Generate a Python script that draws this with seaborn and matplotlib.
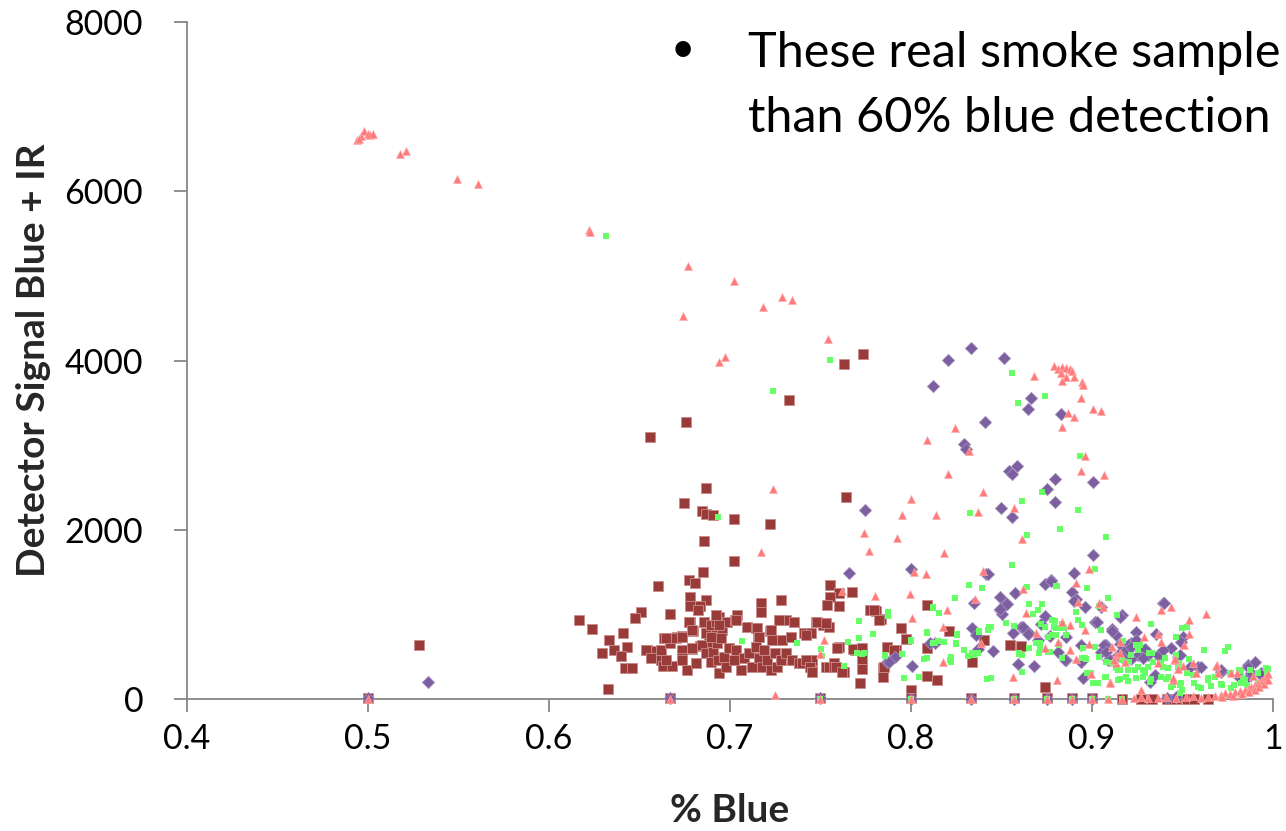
import numpy as np
import pandas as pd
import matplotlib
matplotlib.use("Agg")
import matplotlib.pyplot as plt
import seaborn as sns

sns.set_style("ticks")
plt.rcParams['font.family'] = ['Lato', 'DejaVu Sans']

# ---------------- data (x = fraction blue, y = detector signal blue + IR) ----------------
red_pts = [
    (0.528, 638), (0.7734, 4078), (0.763, 3960), (0.7326, 3534), (0.6758, 3274), (0.6559, 3097),
    (0.6868, 2494), (0.764, 2388), (0.6747, 2317), (0.6846, 2222), (0.6868, 2187), (0.6906, 2175),
    (0.7023, 2128), (0.7221, 2069), (0.6857, 1868), (0.7023, 1631), (0.6852, 1501), (0.6603, 1336),
    (0.6774, 1407), (0.6808, 1371), (0.7552, 1347), (0.7602, 1253), (0.7673, 1265), (0.7552, 1206),
    (0.7602, 1099), (0.678, 1206), (0.6868, 1170), (0.678, 1099), (0.6835, 1099), (0.6825, 1052),
    (0.7282, 1170), (0.7172, 1135), (0.7172, 1028), (0.6168, 934), (0.6239, 827), (0.651, 1028),
    (0.6477, 957), (0.641, 780), (0.667, 1005), (0.678, 910), (0.6797, 804), (0.6333, 697),
    (0.6432, 615), (0.6295, 544), (0.6361, 579), (0.6399, 508), (0.6421, 366), (0.646, 366),
    (0.6328, 118), (0.6543, 579), (0.6565, 496), (0.6592, 567), (0.662, 579), (0.6637, 721),
    (0.667, 662), (0.6709, 733), (0.6736, 745), (0.6736, 579), (0.6736, 485), (0.6791, 591),
    (0.6835, 627), (0.6857, 910), (0.6885, 674), (0.6902, 792), (0.6924, 757), (0.694, 969),
    (0.6957, 816), (0.6984, 910), (0.7028, 934), (0.7039, 993), (0.7094, 851), (0.7144, 839),
    (0.7155, 733), (0.7221, 804), (0.7276, 934), (0.731, 934), (0.7354, 910), (0.7409, 780),
    (0.7447, 780), (0.7475, 910), (0.7513, 875), (0.7547, 851), (0.7392, 426), (0.7453, 402),
    (0.7453, 331), (0.753, 378), (0.7574, 426), (0.7602, 615), (0.763, 319), (0.769, 579),
    (0.7729, 473), (0.7729, 355), (0.7718, 189), (0.7773, 1052), (0.7806, 1040), (0.7833, 946),
    (0.7845, 366), (0.7845, 260), (0.7867, 615), (0.7916, 579),
    (0.6537, 579), (0.6565, 485), (0.662, 461), (0.6631, 390), (0.6681, 390), (0.6648, 461),
    (0.6736, 461), (0.6763, 343), (0.6791, 603), (0.6813, 426), (0.6846, 638), (0.6868, 544),
    (0.6896, 437), (0.6907, 556), (0.6929, 662), (0.6934, 461), (0.694, 307), (0.6968, 496),
    (0.6978, 378), (0.6995, 603), (0.7023, 461), (0.7034, 579), (0.7061, 343), (0.7078, 485),
    (0.7105, 544), (0.7122, 378), (0.7144, 615), (0.7161, 485), (0.7177, 378), (0.7188, 579),
    (0.7205, 461), (0.7227, 343), (0.7232, 697), (0.7249, 544), (0.726, 378), (0.7282, 461),
    (0.731, 544), (0.7288, 697), (0.7337, 733), (0.7343, 461), (0.7381, 426), (0.742, 757),
    (0.7453, 461), (0.748, 910), (0.753, 898), (0.7547, 378), (0.7574, 378), (0.6868, 780),
    (0.6896, 733), (0.6951, 721), (0.6896, 875), (0.6924, 910), (0.7149, 839), (0.7161, 733),
    (0.7227, 816), (0.6648, 721), (0.6703, 721), (0.6736, 733), (0.6774, 910), (0.6791, 816),
    (0.6924, 993), (0.694, 875), (0.7034, 934), (0.7271, 934), (0.7398, 426), (0.742, 461),
    (0.7442, 378), (0.7453, 319), (0.7585, 378), (0.759, 603),
    (0.7536, 1111), (0.7679, 591), (0.7729, 603), (0.7618, 319), (0.7795, 1052), (0.7944, 839),
    (0.7971, 709), (0.7905, 579), (0.785, 378), (0.8087, 1111), (0.8087, 603), (0.8087, 272),
    (0.8142, 225), (0.8208, 804), (0.7999, 106), (0.8401, 697), (0.8545, 638), (0.8606, 627),
    (0.8335, 437), (0.8738, 142), (0.7822, 934),
    (0.5, 12), (0.6667, 10), (0.75, 10), (0.8, 8), (0.8333, 8), (0.8571, 8), (0.875, 6),
    (0.8889, 6), (0.9, 6), (0.9167, 5), (0.9273, 5), (0.9333, 5), (0.9412, 5), (0.9466, 5),
    (0.9524, 5), (0.9565, 5), (0.9643, 5),
]

purple_pts = [
    (0.5329, 201), (0.7745, 2234), (0.7657, 1489), (0.7867, 437), (0.7911, 496), (0.833, 4149),
    (0.8203, 4007), (0.8512, 4031), (0.812, 3700), (0.8661, 3558), (0.8644, 3428), (0.8826, 3369),
    (0.8407, 3274), (0.8291, 3014), (0.8302, 2955), (0.8584, 2754), (0.854, 2695), (0.8556, 2659),
    (0.8793, 2600), (0.9008, 2565), (0.8749, 2482), (0.8793, 2329), (0.8495, 2258), (0.8556, 2151),
    (0.9003, 1702), (0.7999, 1537), (0.8413, 1478), (0.8424, 1478), (0.8903, 1489), (0.8771, 1407),
    (0.8738, 1359), (0.8573, 1253), (0.8887, 1265), (0.849, 1206), (0.8909, 1182), (0.8523, 1135),
    (0.8959, 1087), (0.8346, 1135), (0.9394, 1135), (0.849, 1052), (0.8501, 1005), (0.8738, 981),
    (0.9163, 993), (0.9019, 910), (0.8606, 851), (0.8335, 839), (0.8357, 757), (0.8561, 780),
    (0.865, 780), (0.9108, 827), (0.913, 757), (0.9245, 792), (0.9351, 768), (0.9505, 733),
    (0.9494, 674), (0.8766, 745), (0.8854, 733), (0.8937, 638), (0.908, 638), (0.9174, 579),
    (0.9218, 662), (0.8104, 662), (0.8451, 567), (0.881, 556), (0.8854, 461), (0.8937, 437),
    (0.9047, 556), (0.9091, 461), (0.9146, 520), (0.919, 579), (0.9256, 520), (0.9311, 520),
    (0.9378, 520), (0.9439, 603), (0.9477, 496), (0.9543, 378), (0.9587, 378), (0.9714, 319),
    (0.9863, 402), (0.9902, 437), (0.988, 307), (0.9935, 307), (0.9323, 201), (0.935, 284),
    (0.8953, 248), (0.8589, 414), (0.8677, 390), (0.8004, 390), (0.8776, 1395), (0.8898, 1158),
    (0.9052, 1087), (0.9157, 969), (0.94, 1135), (0.9025, 910), (0.9113, 804), (0.9157, 650),
    (0.9201, 638), (0.9185, 567), (0.9218, 615), (0.9245, 697), (0.9295, 591), (0.9367, 520),
    (0.9394, 579), (0.9488, 520), (0.9069, 638), (0.908, 556), (0.9097, 461), (0.9168, 496),
    (0.9218, 473), (0.9284, 485), (0.8852, 461), (0.9604, 378), (0.9714, 343), (0.9863, 378),
    (0.988, 284), (0.9847, 225), (0.981, 260), (0.9935, 284), (0.8529, 1123), (0.849, 1064),
    (0.8617, 851), (0.8644, 768), (0.8716, 887), (0.8368, 591), (0.7878, 437), (0.8131, 662),
    (0.8699, 697),
    (0.5, 8), (0.6667, 6), (0.75, 6), (0.8, 5), (0.8333, 5), (0.8571, 5), (0.875, 4),
    (0.8889, 4), (0.9, 4), (0.9412, 15), (0.9466, 20),
]

green_pts = [
    (0.6317, 5473), (0.7552, 4007), (0.7238, 3641), (0.6934, 2151), (0.7872, 1028), (0.7872, 981),
    (0.7712, 922), (0.7789, 768), (0.7712, 721), (0.7651, 674), (0.7067, 686), (0.737, 662),
    (0.7502, 591), (0.7508, 508), (0.7701, 544), (0.774, 544), (0.763, 390), (0.7856, 508),
    (0.8556, 1584), (0.8319, 1347), (0.839, 1312), (0.8242, 1194), (0.8639, 1324), (0.865, 1123),
    (0.8721, 1123), (0.8699, 1052), (0.8672, 1005), (0.8777, 934), (0.8799, 1336), (0.8523, 898),
    (0.8567, 863), (0.8716, 887), (0.844, 851), (0.8424, 816), (0.8374, 804), (0.8799, 839),
    (0.8799, 757), (0.8755, 733), (0.871, 662), (0.871, 615), (0.8766, 556), (0.865, 603),
    (0.8595, 532), (0.8611, 520), (0.8611, 319), (0.8418, 236), (0.8335, 544), (0.8313, 508),
    (0.8291, 579), (0.8247, 650), (0.8253, 757), (0.8181, 674), (0.8148, 686), (0.812, 662),
    (0.8153, 1017), (0.812, 1076), (0.8087, 792), (0.822, 496), (0.822, 437), (0.807, 473),
    (0.7999, 686), (0.7949, 532), (0.796, 248), (0.7729, 532),
    (0.8556, 3853), (0.8743, 3581), (0.8589, 3499), (0.8931, 2872), (0.8721, 2447), (0.8611, 2340),
    (0.8925, 2234), (0.8324, 2199), (0.8821, 2009), (0.8639, 1938), (0.908, 1915), (0.9019, 1537),
    (0.8804, 1336), (0.8975, 1312), (0.9091, 1194), (0.8914, 1028), (0.914, 993), (0.9328, 887),
    (0.9499, 839), (0.9527, 851), (0.9466, 733), (0.9621, 579), (0.9737, 567), (0.9753, 615),
    (0.9825, 331), (0.9974, 355), (0.9968, 307), (0.977, 307), (0.9643, 225), (0.9847, 225),
    (0.9825, 189), (0.9714, 177), (0.956, 284), (0.9422, 260), (0.9383, 426), (0.9405, 485),
    (0.9483, 426), (0.9488, 165), (0.9267, 638), (0.9334, 544), (0.9218, 520), (0.8997, 307),
    (0.9003, 189), (0.9074, 260), (0.9146, 343), (0.9146, 225), (0.919, 260), (0.9108, 426),
    (0.9256, 378), (0.9295, 307), (0.9323, 201), (0.9439, 142), (0.9587, 142), (0.9659, 154),
    (0.977, 130), (0.9918, 189), (0.8964, 485), (0.9019, 615), (0.8953, 603), (0.8975, 307),
    (0.8815, 638), (0.8854, 757), (0.8777, 757), (0.8925, 934), (0.8843, 839), (0.8738, 851),
    (0.8688, 662), (0.8705, 544), (0.8755, 556), (0.8595, 544), (0.8429, 851), (0.8374, 792),
    (0.8253, 768), (0.8087, 780), (0.8131, 662), (0.8247, 662), (0.8214, 461), (0.8346, 520),
    (0.8368, 544), (0.844, 248), (0.812, 1087), (0.7999, 697), (0.7856, 520), (0.8042, 260),
    (0.8087, 485),
    (0.9036, 1099), (0.9047, 816), (0.8942, 875), (0.8793, 922), (0.8832, 887), (0.8788, 851),
    (0.8832, 839), (0.9174, 686), (0.9245, 638), (0.9256, 579), (0.9036, 496), (0.8942, 485),
    (0.8837, 485), (0.8969, 473), (0.908, 437), (0.9163, 461), (0.9207, 437), (0.9317, 544),
    (0.9339, 437), (0.9394, 378), (0.9422, 366), (0.9466, 520), (0.9477, 378), (0.9538, 473),
    (0.913, 366), (0.9157, 343), (0.9201, 343), (0.924, 343), (0.9284, 343), (0.9311, 378),
    (0.908, 260), (0.9152, 236), (0.9201, 213), (0.9245, 248), (0.9284, 260), (0.9328, 236),
    (0.9383, 260), (0.9411, 236), (0.945, 165), (0.9494, 189), (0.9527, 307), (0.9565, 189),
    (0.9604, 130), (0.9643, 248), (0.9681, 260), (0.972, 165), (0.9763, 307), (0.9814, 343),
    (0.9836, 248), (0.9875, 343), (0.9919, 307), (0.9963, 366), (0.9786, 165), (0.9858, 165),
    (0.9031, 189), (0.9488, 71), (0.9499, 106),
    (0.75, 5), (0.8, 5), (0.8571, 5), (0.875, 5), (0.8889, 5), (0.9, 5), (0.9091, 5), (0.9167, 5),
]

pink_pts = [
    (0.494, 6608), (0.496, 6655), (0.498, 6714), (0.5, 6680), (0.501, 6667), (0.503, 6680),
    (0.495, 6620), (0.5175, 6442), (0.5208, 6478), (0.549, 6146), (0.5605, 6087), (0.622, 5544),
    (0.6225, 5520), (0.677, 5118), (0.702, 4941), (0.729, 4752), (0.734, 4716), (0.718, 4633),
    (0.674, 4527), (0.754, 4255), (0.697, 4042), (0.694, 3983), (0.724, 2482), (0.774, 1962),
    (0.792, 1903), (0.717, 1738), (0.777, 1749), (0.762, 1277), (0.78, 1217), (0.752, 697),
    (0.75, 532), (0.725, 47),
    (0.8788, 3936), (0.881, 3901), (0.8832, 3924), (0.8854, 3912), (0.8881, 3901), (0.8892, 3877),
    (0.8826, 3853), (0.8859, 3806), (0.8898, 3806), (0.8832, 3759), (0.8942, 3747), (0.8953, 3711),
    (0.8677, 3818), (0.8937, 3558), (0.9008, 3428), (0.9047, 3404), (0.887, 3381), (0.8898, 3333),
    (0.8837, 3215),
    (0.8242, 3203), (0.8087, 3061), (0.8319, 2931), (0.8964, 2872), (0.8937, 2695), (0.9069, 2648),
    (0.8203, 2659), (0.8396, 2447), (0.7999, 2364), (0.8567, 2258), (0.8368, 2210), (0.7949, 2175),
    (0.8137, 2175), (0.8611, 1891), (0.8181, 1726),
    (0.8015, 1501), (0.8082, 1478), (0.8396, 1513), (0.8981, 1537), (0.7993, 1241), (0.8617, 1300),
    (0.8909, 1371), (0.8352, 1182), (0.892, 1146), (0.9036, 1135), (0.9439, 1087), (0.9383, 1052),
    (0.8197, 1052), (0.8004, 957), (0.9245, 969), (0.9632, 1005), (0.9538, 934), (0.8633, 1016),
    (0.8175, 851), (0.8832, 910), (0.8881, 875), (0.8688, 780), (0.881, 674), (0.8385, 662),
    (0.8175, 437), (0.8738, 603), (0.8881, 579), (0.8981, 650), (0.9152, 674), (0.913, 520),
    (0.9367, 768), (0.9383, 674), (0.951, 638), (0.9538, 768), (0.8561, 260), (0.8804, 225),
    (0.8997, 296), (0.9097, 201), (0.9273, 106), (0.9367, 426), (0.9455, 461), (0.956, 426),
    (0.9692, 402), (0.9698, 307), (0.9891, 272), (0.913, 426), (0.9185, 437), (0.945, 225),
    (0.9477, 355), (0.9957, 260),
    (0.9063, 1087), (0.8964, 816), (0.929, 733), (0.9113, 615), (0.9152, 544), (0.8914, 473),
    (0.9119, 461), (0.946, 473), (0.9505, 390), (0.9576, 307), (0.9687, 390), (0.977, 307),
    (0.98, 307), (0.9102, 189), (0.945, 248),
    (0.923, 15), (0.9273, 20), (0.9312, 10), (0.9367, 15), (0.9411, 25), (0.9466, 10),
    (0.9521, 20), (0.956, 30), (0.9604, 15), (0.9643, 25), (0.968, 35), (0.9715, 50),
    (0.9737, 71), (0.9765, 60), (0.979, 83), (0.9815, 90), (0.9847, 106), (0.9865, 125),
    (0.988, 142), (0.99, 165), (0.9918, 189), (0.9935, 210), (0.9946, 225), (0.9962, 260),
    (0.9975, 300), (0.972, 20), (0.978, 40), (0.983, 60), (0.987, 80), (0.99, 110),
    (0.9925, 140), (0.995, 180), (0.997, 230),
    (0.5, 5), (0.6667, 5), (0.75, 5), (0.8, 5), (0.8333, 5), (0.8571, 5), (0.875, 5),
    (0.8889, 5), (0.9, 5), (0.9091, 5), (0.9167, 5),
]

x_ticks = [0.4, 0.5, 0.6, 0.7, 0.8, 0.9, 1.0]
x_tick_labels = ["0.4", "0.5", "0.6", "0.7", "0.8", "0.9", "1"]
y_ticks = [0, 2000, 4000, 6000, 8000]
y_tick_labels = ["0", "2000", "4000", "6000", "8000"]
x_label = "% Blue"
y_label = "Detector Signal Blue + IR"
note_line1 = "These real smoke sample"
note_line2 = "than 60% blue detection"

# ---------------- figure ----------------
fig = plt.figure(figsize=(12.86, 8.31), dpi=100)
ax = fig.add_axes([187 / 1286, 1 - 699 / 831, (1273 - 187) / 1286, (699 - 22) / 831])

series = [
    (red_pts, "s", 55, "#993B38", "#C98C8A", 0.6),
    (purple_pts, "D", 40, "#7C5F9F", "#A995C2", 0.5),
    (green_pts, "s", 20, "#66FF66", "#66FF66", 0.0),
    (pink_pts, "^", 34, "#FF7B7B", "#FFB0B0", 0.4),
]
for pts, mk, sz, col, ec, lw in series:
    df = pd.DataFrame(pts, columns=["x", "y"])
    sns.scatterplot(data=df, x="x", y="y", marker=mk, s=sz, color=col,
                    edgecolor=ec, linewidth=lw, ax=ax, clip_on=False, zorder=3)

ax.set_xlim(0.4, 1.0)
ax.set_ylim(0, 8000)
ax.set_xticks(x_ticks)
ax.set_xticklabels(x_tick_labels)
ax.set_yticks(y_ticks)
ax.set_yticklabels(y_tick_labels)

for side in ["top", "right"]:
    ax.spines[side].set_visible(False)
for side in ["left", "bottom"]:
    ax.spines[side].set_color("#868686")
    ax.spines[side].set_linewidth(1.3)

ax.tick_params(axis="both", direction="out", length=9.5, width=1.3, color="#868686",
               labelsize=24.5, labelcolor="black")
ax.tick_params(axis="x", pad=8)
ax.tick_params(axis="y", pad=22)

ax.set_xlabel(x_label, fontsize=28, fontweight="bold", labelpad=27)
ax.set_ylabel(y_label, fontsize=28, fontweight="bold", labelpad=10)

fig.text(683 / 1286, 1 - 50 / 831, "\u2022", fontsize=30, ha="center", va="center", color="black")
fig.text(748 / 1286, 1 - 67 / 831, note_line1, fontsize=35, ha="left", va="baseline", color="black")
fig.text(748 / 1286, 1 - 132 / 831, note_line2, fontsize=35, ha="left", va="baseline", color="black")

fig.savefig("out.png", dpi=100)
